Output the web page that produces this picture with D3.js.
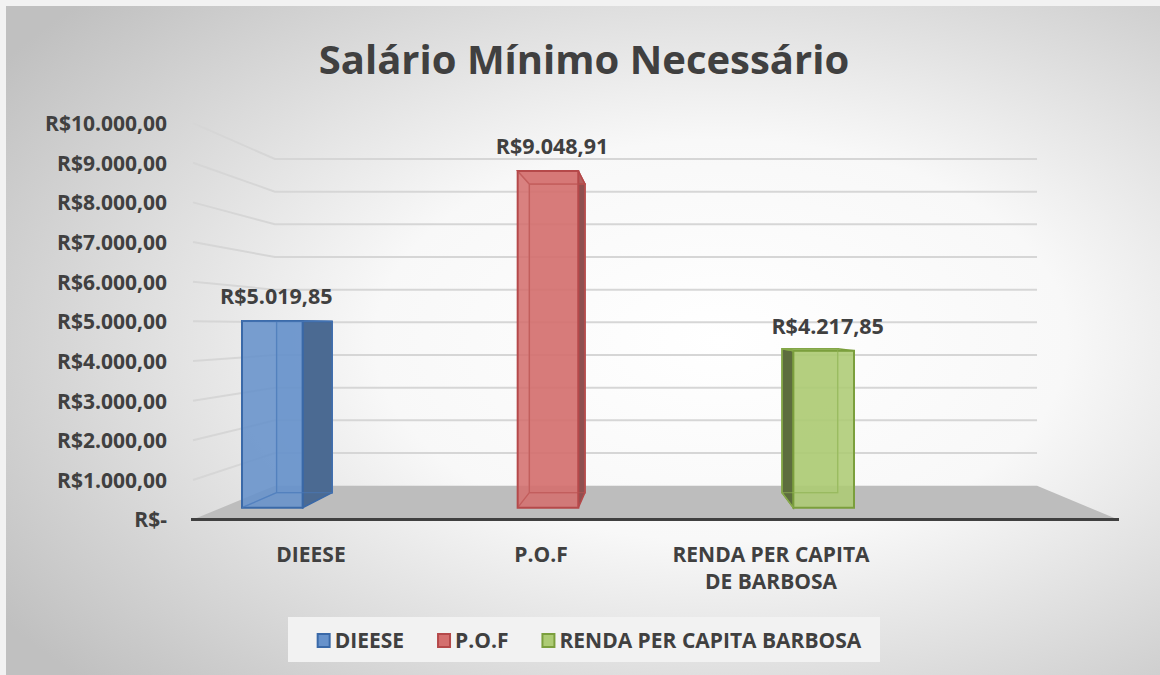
<!DOCTYPE html>
<html>
<head>
<meta charset="utf-8">
<script src="https://cdn.jsdelivr.net/npm/d3@7"></script>
<style>
  body { margin: 0; background: #ffffff; }
  svg text { font-family: "Open Sans", Lato, sans-serif; font-weight: bold; fill: #404040; }
</style>
</head>
<body>
<div class="chart"></div>
<script>
var categories = ['DIEESE', 'P.O.F', 'RENDA PER CAPITA BARBOSA'];
var categoryLines = [['DIEESE'], ['P.O.F'], ['RENDA PER CAPITA', 'DE BARBOSA']];
var values = [5019.85, 9048.91, 4217.85];
var legendLabels = ['DIEESE', 'P.O.F', 'RENDA PER CAPITA BARBOSA'];
var yTickValues = [0, 1000, 2000, 3000, 4000, 5000, 6000, 7000, 8000, 9000, 10000];
var title = 'Salário Mínimo Necessário';

var palette = [
  { front: '#6792cb', side: '#4b6a92', edge: '#3a69a8', inner: '#4a78b8' },
  { front: '#d46f6e', side: '#8f5050', edge: '#b5494a', inner: '#b85554' },
  { front: '#adcb74', side: '#5d6d3e', edge: '#7b9f3d', inner: '#8fb155' }
];

var width = 1160, height = 675;

// fake 3d: everything is projected towards a vanishing point
var vp = [658, 327];
var sBarFront = 0.938, sBarBack = 0.86, sWall = 0.824;
var floorLeft = 193, floorRight = 1118;

var ptBR = d3.formatLocale({ decimal: ',', thousands: '.', grouping: [3], currency: ['R$', ''] });
var money = ptBR.format('$,.2f');
function fmt(v) { return v === 0 ? 'R$-' : money(v); }

function proj(p, s) {
  return [vp[0] + (p[0] - vp[0]) * s, vp[1] + (p[1] - vp[1]) * s];
}

// y in the front plane (s = 1)
var y = d3.scaleLinear().domain([0, 10000]).range([519.6, 123.1]);
// bar fronts in screen space (at sBarFront)
var x = d3.scaleBand().domain(categories).range([242, 854]).paddingInner(0.78);
var xLabel = d3.scalePoint().domain(categories).range([311, 771]);

var svg = d3.select('.chart')
  .append('svg')
    .attr('width', width)
    .attr('height', height);

var defs = svg.append('defs');
var bg = defs.append('radialGradient')
    .attr('id', 'bg')
    .attr('cx', '0.62').attr('cy', '0.5').attr('r', '0.75')
    .attr('fx', '0.62').attr('fy', '0.5');
bg.append('stop').attr('offset', '0').attr('stop-color', '#ffffff');
bg.append('stop').attr('offset', '0.4').attr('stop-color', '#f8f8f8');
bg.append('stop').attr('offset', '1').attr('stop-color', '#c0c0c0');

svg.append('rect')
    .attr('width', width).attr('height', height)
    .attr('fill', '#f2f2f2');
svg.append('rect')
    .attr('x', 6).attr('y', 6)
    .attr('width', width - 6).attr('height', height - 6)
    .attr('fill', 'url(#bg)');

// title
svg.append('text')
    .attr('x', 584)
    .attr('y', 74)
    .attr('text-anchor', 'middle')
    .style('font-size', '40px')
    .text(title);

// floor
var fl = [floorLeft, y(0)], fr = [floorRight, y(0)];
var floorPts = [fl, fr, proj(fr, sWall), proj(fl, sWall)];
svg.append('path')
    .attr('d', 'M' + floorPts.join('L') + 'Z')
    .attr('fill', '#bdbdbd');
svg.append('line')
    .attr('x1', floorLeft - 2).attr('x2', floorRight + 1)
    .attr('y1', y(0)).attr('y2', y(0))
    .attr('stroke', '#404040')
    .attr('stroke-width', 3);

// gridlines: side wall + back wall
var grid = svg.append('g')
    .attr('fill', 'none')
    .attr('stroke', '#d6d6d6')
    .attr('stroke-width', 2);
grid.selectAll('path')
  .data(yTickValues.filter(d => d > 0))
  .enter()
  .append('path')
    .attr('d', d => {
      var a = [floorLeft, y(d)];
      var b = proj(a, sWall);
      var c = proj([floorRight, y(d)], sWall);
      return 'M' + a + 'L' + b + 'L' + c;
    });

// y axis labels
var yAxis = d3.axisLeft(y)
    .tickValues(yTickValues)
    .tickFormat(fmt)
    .tickSize(0)
    .tickPadding(0);
var yg = svg.append('g')
    .attr('transform', 'translate(167, 0)')
    .call(yAxis);
yg.select('.domain').remove();
yg.selectAll('text')
    .attr('font-family', null)
    .style('font-size', '21px')
    .attr('dy', '0.35em');

// bars
var r = sBarBack / sBarFront;
var bars = svg.selectAll('.bar')
  .data(values)
  .enter()
  .append('g')
    .attr('class', 'bar');

bars.each(function(v, i) {
  var g = d3.select(this);
  var col = palette[i];
  var x0 = x(categories[i]), x1 = x0 + x.bandwidth();
  var yt = proj([0, y(v)], sBarFront)[1];
  var yb = proj([0, y(0)], sBarFront)[1];
  var f = [[x0, yt], [x1, yt], [x1, yb], [x0, yb]];
  var b = f.map(p => proj(p, r));
  var poly = pts => 'M' + pts.join('L') + 'Z';

  // inner (hidden) edges, seen through the glass
  g.append('path')
      .attr('d', poly(b) + 'M' + f[0] + 'L' + b[0] + 'M' + f[3] + 'L' + b[3])
      .attr('fill', col.front)
      .attr('fill-opacity', 0.35)
      .attr('stroke', col.inner)
      .attr('stroke-width', 1.5);

  // visible side face
  if (b[1][0] > f[1][0]) {
    g.append('path')
        .attr('d', poly([f[1], b[1], b[2], f[2]]))
        .attr('fill', col.side)
        .attr('stroke', col.edge)
        .attr('stroke-width', 1.5);
  }
  if (b[0][0] < f[0][0]) {
    g.append('path')
        .attr('d', poly([b[0], f[0], f[3], b[3]]))
        .attr('fill', col.side)
        .attr('stroke', col.edge)
        .attr('stroke-width', 1.5);
  }
  // top face
  g.append('path')
      .attr('d', poly([f[0], f[1], b[1], b[0]]))
      .attr('fill', col.front)
      .attr('fill-opacity', 0.5)
      .attr('stroke', col.edge)
      .attr('stroke-width', 1.5);

  // front face
  g.append('path')
      .attr('d', poly(f))
      .attr('fill', col.front)
      .attr('fill-opacity', 0.88)
      .attr('stroke', col.edge)
      .attr('stroke-width', 2);

  // inner edges again, faintly through the front
  g.append('path')
      .attr('d', poly(b) + 'M' + f[0] + 'L' + b[0] + 'M' + f[3] + 'L' + b[3])
      .attr('fill', 'none')
      .attr('stroke', col.inner)
      .attr('stroke-opacity', 0.6)
      .attr('stroke-width', 1.2);

  // data label
  g.append('text')
      .attr('x', (x0 + x1) / 2 + 4)
      .attr('y', yt - 17)
      .attr('text-anchor', 'middle')
      .style('font-size', '21.5px')
      .text(fmt(v));
});

// category labels
var cat = svg.append('g');
cat.selectAll('text')
  .data(categories)
  .enter()
  .append('text')
    .attr('x', d => xLabel(d))
    .attr('y', 562)
    .attr('text-anchor', 'middle')
    .style('font-size', '21px')
    .each(function(d, i) {
      d3.select(this).selectAll('tspan')
        .data(categoryLines[i])
        .enter()
        .append('tspan')
          .attr('x', xLabel(d))
          .attr('dy', (t, j) => j === 0 ? 0 : 27)
          .text(t => t);
    });

// legend
svg.append('rect')
    .attr('x', 288).attr('y', 617)
    .attr('width', 592).attr('height', 45)
    .attr('fill', '#f2f2f2');
var legend = svg.append('g');
var lx = 0;
legendLabels.forEach(function(name, i) {
  var col = palette[i];
  legend.append('rect')
      .attr('x', lx + 1).attr('y', 634)
      .attr('width', 12).attr('height', 13)
      .attr('fill', col.front)
      .attr('stroke', col.edge)
      .attr('stroke-width', 2);
  var t = legend.append('text')
      .attr('x', lx + 18)
      .attr('y', 648)
      .style('font-size', '21px')
      .text(name);
  lx += 18 + t.node().getComputedTextLength() + (i < legendLabels.length - 1 ? 33 : 0);
});
// centre the entries in the legend box
legend.attr('transform', 'translate(' + (589 - lx / 2) + ', 0)');
</script>
</body>
</html>
